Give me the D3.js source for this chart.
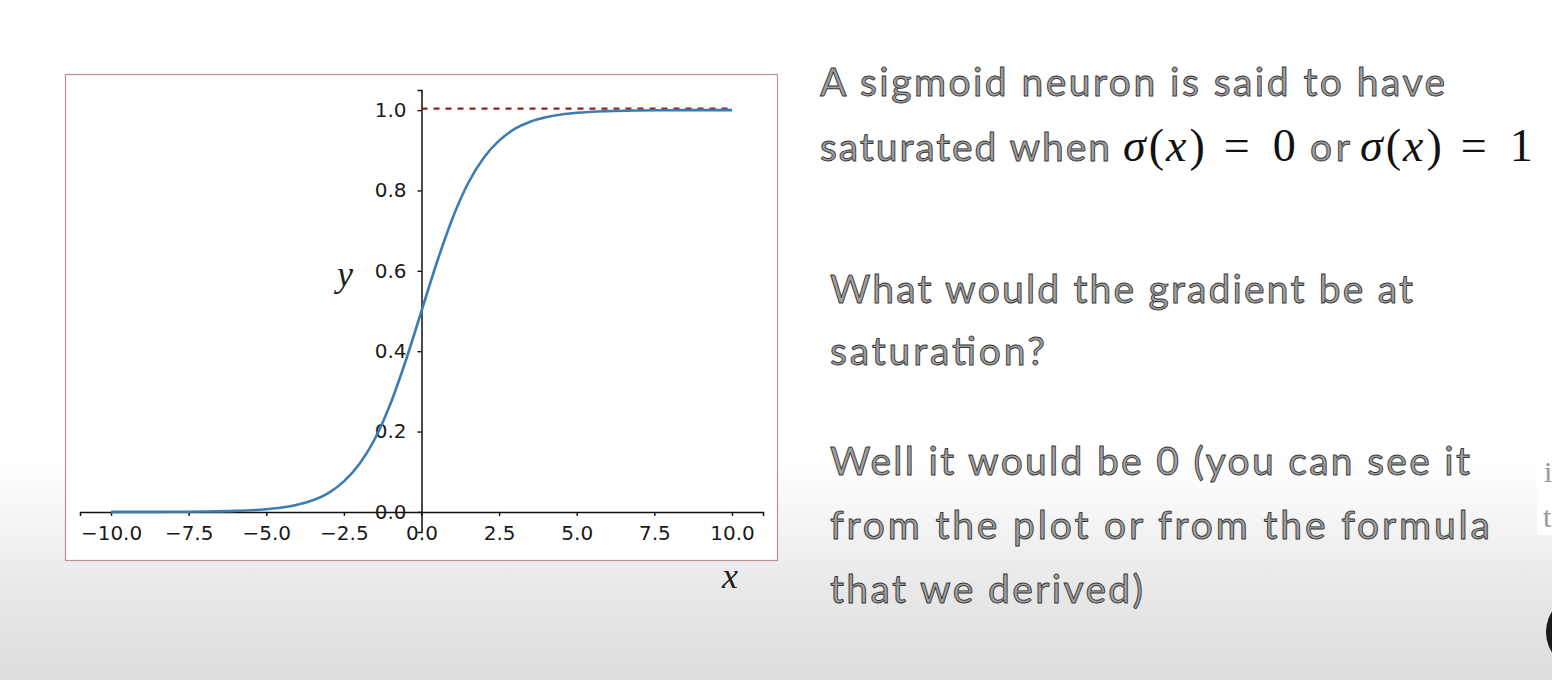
<!DOCTYPE html>
<html>
<head>
<meta charset="utf-8">
<script src="https://cdn.jsdelivr.net/npm/d3@7"></script>
<style>
  html, body { margin: 0; padding: 0; background: #fff; }
  svg { display: block; }
</style>
</head>
<body>
<svg id="chart" width="1552" height="680"></svg>
<script>
// values
const curveX = [-10, -9, -8, -7, -6, -5, -4.5, -4, -3.5, -3, -2.5, -2, -1.5, -1, -0.5, 0,
  0.5, 1, 1.5, 2, 2.5, 3, 3.5, 4, 4.5, 5, 6, 7, 8, 9, 10];
const curveY = [0.0000, 0.0001, 0.0003, 0.0009, 0.0025, 0.0067, 0.011, 0.018, 0.029, 0.047, 0.076, 0.119, 0.182, 0.269, 0.378, 0.5,
  0.622, 0.731, 0.818, 0.881, 0.924, 0.953, 0.971, 0.982, 0.989, 0.9933, 0.9975, 0.9991, 0.9997, 0.9999, 1.0];
const xTicks = [-10, -7.5, -5, -2.5, 0, 2.5, 5, 7.5, 10];
const yTicks = [0, 0.2, 0.4, 0.6, 0.8, 1.0];
const saturation = { from: 0, to: 10, level: 1.0 };

const headLine = 'A sigmoid neuron is said to have';
const questionLines = ['What would the gradient be at', 'saturation?'];
const answerLines = ['Well it would be 0 (you can see it', 'from the plot or from the formula', 'that we derived)'];

const svg = d3.select('#chart');
const W = 1552, H = 680;

// slide background
const defs = svg.append('defs');
const grad = defs.append('linearGradient').attr('id', 'bg').attr('x1', 0).attr('y1', 0).attr('x2', 0).attr('y2', 1);
grad.append('stop').attr('offset', '0%').attr('stop-color', '#ffffff');
grad.append('stop').attr('offset', '68%').attr('stop-color', '#ffffff');
grad.append('stop').attr('offset', '86%').attr('stop-color', '#e9e9e9');
grad.append('stop').attr('offset', '100%').attr('stop-color', '#dcdcdc');
svg.append('rect').attr('width', W).attr('height', H).attr('fill', 'url(#bg)');

// figure frame
svg.append('rect')
  .attr('x', 65.5).attr('y', 74.5).attr('width', 712).attr('height', 486)
  .attr('fill', '#fff').attr('stroke', '#bf8f92').attr('stroke-width', 1.2);

const x = d3.scaleLinear().domain([-11, 11]).range([80, 763]);
const y = d3.scaleLinear().domain([-0.05, 1.05]).range([532, 90]);

const tickFont = '"DejaVu Sans", sans-serif';

const xAxis = svg.append('g')
  .attr('transform', `translate(0,${y(0)})`)
  .call(d3.axisBottom(x).tickValues(xTicks).tickFormat(d3.format('.1f')).tickSizeOuter(0).tickSize(4).tickPadding(10));

const yAxis = svg.append('g')
  .attr('transform', `translate(${x(0)},0)`)
  .call(d3.axisLeft(y).tickValues(yTicks).tickFormat(d3.format('.1f')).tickSizeOuter(0).tickSize(4).tickPadding(11));

[xAxis, yAxis].forEach(g => {
  g.select('.domain').attr('stroke', '#111').attr('stroke-width', 1.5);
  g.selectAll('.tick line').attr('stroke', '#111').attr('stroke-width', 1.4);
  g.selectAll('.tick text').attr('fill', '#1a1a1a').style('font-family', tickFont).style('font-size', '20px');
});

// saturation line
svg.append('line')
  .attr('x1', x(saturation.from)).attr('x2', x(saturation.to))
  .attr('y1', y(saturation.level) - 1.5).attr('y2', y(saturation.level) - 1.5)
  .attr('stroke', '#8e2328').attr('stroke-width', 2.2).attr('stroke-dasharray', '6,6');

// sigmoid curve
const pts = curveX.map((v, i) => [v, curveY[i]]);
svg.append('path')
  .datum(pts)
  .attr('fill', 'none')
  .attr('stroke', '#3a7db3')
  .attr('stroke-width', 2.6)
  .attr('d', d3.line().x(d => x(d[0])).y(d => y(d[1])).curve(d3.curveMonotoneX));

// axis labels
const mathFont = '"Liberation Serif", "DejaVu Serif", serif';
svg.append('text').attr('x', 345).attr('y', 286).attr('text-anchor', 'middle')
  .style('font-family', mathFont).style('font-style', 'italic').style('font-size', '36px').attr('fill', '#222').text('y');
svg.append('text').attr('x', 730).attr('y', 588).attr('text-anchor', 'middle')
  .style('font-family', mathFont).style('font-style', 'italic').style('font-size', '36px').attr('fill', '#222').text('x');

// slide text
const slideFont = 'Lato, "Open Sans", sans-serif';
function slideText(x0, y0, str, len) {
  return svg.append('text').attr('x', x0).attr('y', y0)
    .attr('textLength', len).attr('lengthAdjust', 'spacing')
    .style('font-family', slideFont).style('font-size', '39px')
    .attr('fill', '#a0a0a0').attr('stroke', '#363636').attr('stroke-width', 0.9)
    .text(str);
}
function sigma(x0, y0, val) {
  const m = svg.append('text').attr('x', x0).attr('y', y0)
    .style('font-family', mathFont).style('font-size', '46px').attr('fill', '#111');
  m.append('tspan').style('font-style', 'italic').text('σ');
  m.append('tspan').attr('dx', 3).text('(');
  m.append('tspan').attr('dx', 2).style('font-style', 'italic').text('x');
  m.append('tspan').attr('dx', 3).text(')');
  m.append('tspan').attr('dx', 19).text('=');
  m.append('tspan').attr('dx', 23).text(val);
}

slideText(820, 96, headLine, 625);
slideText(820, 161, 'saturated when', 290);
sigma(1123, 161, 0);
slideText(1310, 161, 'or', 40);
sigma(1360, 161, 1);

const qLen = [583, 215];
questionLines.forEach((t, i) => slideText(830, 303 + i * 62, t, qLen[i]));
const aLen = [640, 660, 313];
answerLines.forEach((t, i) => slideText(830, 475 + i * 64, t, aLen[i]));

// clipped bits at the right edge
svg.append('rect').attr('x', 1537).attr('y', 445).attr('width', 15).attr('height', 90).attr('fill', '#fff');
svg.append('text').attr('x', 1544).attr('y', 482).style('font-family', mathFont).style('font-size', '30px').attr('fill', '#999').text('i');
svg.append('text').attr('x', 1543).attr('y', 527).style('font-family', mathFont).style('font-size', '30px').attr('fill', '#999').text('t');
svg.append('ellipse').attr('cx', 1580).attr('cy', 632).attr('rx', 34).attr('ry', 36).attr('fill', '#1a1a1a');
</script>
</body>
</html>
